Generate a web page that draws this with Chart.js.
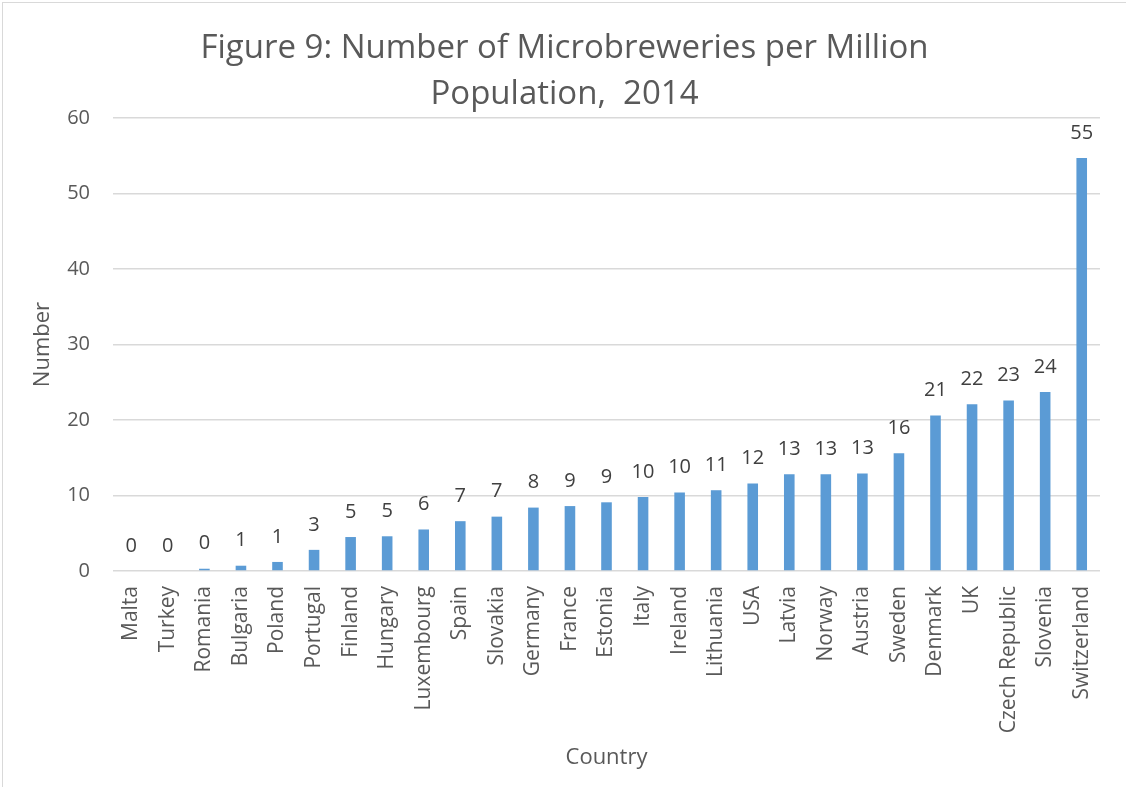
<!DOCTYPE html>
<html>
<head>
<meta charset="utf-8">
<script src="https://cdn.jsdelivr.net/npm/chart.js@4"></script>
<style>
  html, body { margin: 0; padding: 0; background: #fff; }
  canvas { display: block; }
</style>
</head>
<body>
<canvas id="chart" width="1126" height="787"></canvas>
<script>
// Figure 9: microbreweries per million population, 2014

const countries = ["Malta", "Turkey", "Romania", "Bulgaria", "Poland", "Portugal", "Finland",
  "Hungary", "Luxembourg", "Spain", "Slovakia", "Germany", "France", "Estonia", "Italy",
  "Ireland", "Lithuania", "USA", "Latvia", "Norway", "Austria", "Sweden", "Denmark", "UK",
  "Czech Republic", "Slovenia", "Switzerland"];

const perMillion = [0, 0, 0.3, 0.7, 1.2, 2.8, 4.5, 4.6, 5.5, 6.6, 7.2, 8.4, 8.6, 9.1, 9.8,
  10.4, 10.7, 11.6, 12.8, 12.8, 12.9, 15.6, 20.6, 22.1, 22.6, 23.7, 54.7];

const yTicks = [0, 10, 20, 30, 40, 50, 60];

const FONT = "'Open Sans', sans-serif";
const GREY = "#595959";

// labels above each bar, rounded like the original
const barLabels = {
  id: "barLabels",
  afterDatasetsDraw(chart){
    const {ctx} = chart;
    const meta = chart.getDatasetMeta(0);
    ctx.save();
    ctx.font = `20px ${FONT}`;
    ctx.fillStyle = "#404040";
    ctx.textAlign = "center";
    ctx.textBaseline = "middle";
    meta.data.forEach((bar, i) => {
      ctx.fillText(String(Math.round(perMillion[i])), bar.x, bar.y - 25);
    });
    ctx.restore();
  }
};

// thin grey frame like the exported chart box
const frame = {
  id: "frame",
  beforeDraw(chart){
    const {ctx} = chart;
    ctx.save();
    ctx.strokeStyle = "#d9d9d9";
    ctx.lineWidth = 1;
    ctx.strokeRect(2.5, 2.5, chart.width + 10, chart.height + 10);
    ctx.restore();
  }
};

new Chart(document.getElementById("chart").getContext("2d"), {
  type: "bar",
  data: {
    labels: countries,
    datasets: [{
      label: "Number",
      data: perMillion,
      backgroundColor: "#5b9bd5",
      borderWidth: 0,
      barPercentage: 0.29,
      categoryPercentage: 1
    }]
  },
  options: {
    responsive: false,
    animation: false,
    layout: { padding: { left: 3, right: 0, top: 0, bottom: 0 } },
    plugins: {
      legend: { display: false },
      tooltip: { enabled: false },
      title: {
        display: true,
        text: ["Figure 9: Number of Microbreweries per Million", "Population,  2014"],
        color: GREY,
        font: { family: FONT, size: 33, weight: "normal", lineHeight: 1.41 },
        padding: { top: 25, bottom: 0 }
      }
    },
    scales: {
      x: {
        grid: { display: false, drawTicks: false },
        border: { display: false },
        ticks: {
          color: GREY,
          font: { family: FONT, size: 21 },
          minRotation: 90,
          maxRotation: 90,
          autoSkip: false,
          padding: 15
        },
        title: {
          display: true,
          text: "Country",
          color: GREY,
          font: { family: FONT, size: 22 },
          padding: { top: 0, bottom: 16 }
        },
        afterFit(scale){ scale.height = 216; }
      },
      y: {
        min: 0,
        max: 60,
        afterBuildTicks(scale){ scale.ticks = yTicks.map(v => ({ value: v })); },
        grid: { color: "#d9d9d9", lineWidth: 1.5, drawTicks: false },
        border: { display: false },
        ticks: {
          color: GREY,
          font: { family: FONT, size: 20 },
          padding: 23
        },
        title: {
          display: true,
          text: "Number",
          color: GREY,
          font: { family: FONT, size: 22 },
          padding: { top: 27, bottom: 0 }
        },
        afterFit(scale){ scale.width = 110; }
      },
      // empty right-hand strip so the plot ends where the original does
      yRight: {
        position: "right",
        min: 0,
        max: 60,
        grid: { display: false, drawTicks: false },
        border: { display: false },
        ticks: { display: false },
        afterFit(scale){ scale.width = 26; }
      }
    }
  },
  plugins: [frame, barLabels]
});
</script>
</body>
</html>
